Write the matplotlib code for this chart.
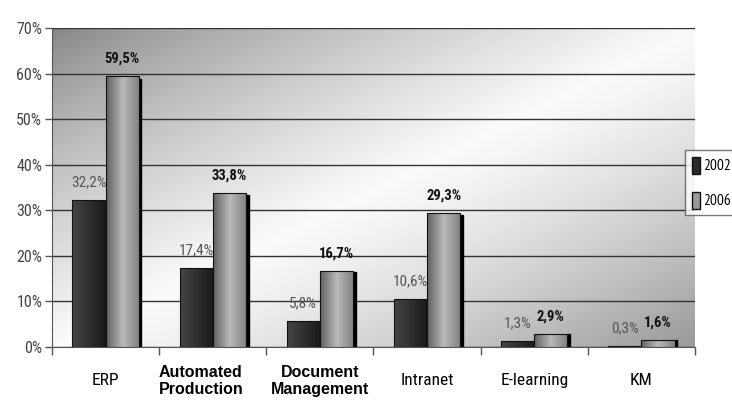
import matplotlib.pyplot as plt
import numpy as np
from matplotlib.patches import Rectangle

categories = ["ERP", "Automated\nProduction", "Document\nManagement", "Intranet", "E-learning", "KM"]
values_2002 = [32.2, 17.4, 5.8, 10.6, 1.3, 0.3]
values_2006 = [59.5, 33.8, 16.7, 29.3, 2.9, 1.6]
labels_2002 = ["32,2%", "17,4%", "5,8%", "10,6%", "1,3%", "0,3%"]
labels_2006 = ["59,5%", "33,8%", "16,7%", "29,3%", "2,9%", "1,6%"]
series = ["2002", "2006"]

narrow = ["Roboto Condensed", "DejaVu Sans"]
narrow_thin = ["PT Sans Narrow", "DejaVu Sans"]
wide = ["Liberation Sans", "DejaVu Sans"]

fig = plt.figure(figsize=(7.32, 4.04), dpi=100)
ax = fig.add_axes([52 / 732, 1 - 347 / 404, 643 / 732, 319 / 404])

x = np.arange(len(categories))
w = 0.31

ax.set_xlim(-0.5, len(categories) - 0.5)
ax.set_ylim(0, 70)

# background gradient (dark at top-left and bottom-right, light across the middle)
gx, gy = np.meshgrid(np.linspace(0, 1, 300), np.linspace(0, 1, 200))
t = (gx + gy) / 2  # gy=0 at top since origin='upper'
bg = np.where(t < 0.5, 0.52 + (0.98 - 0.52) * (t / 0.5) ** 0.8,
              0.98 - (0.98 - 0.6) * ((t - 0.5) / 0.5) ** 1.3)
ax.imshow(bg, cmap="gray", vmin=0, vmax=1, extent=[-0.5, 5.5, 0, 70],
          origin="upper", aspect="auto", zorder=0, interpolation="bilinear")

ax.yaxis.grid(True, color="#333333", linewidth=1.0, zorder=1)
ax.set_axisbelow(True)

dark_grad = np.linspace(0.27, 0.1, 50)[None, :]
light_grad = np.concatenate([np.linspace(0.38, 0.72, 25), np.linspace(0.72, 0.5, 25)])[None, :]


def gradient_bars(xs, heights, grad, label):
    bars = ax.bar(xs, heights, w, color="none", edgecolor="none", zorder=3, label=label)
    for b in bars:
        x0, y0 = b.get_x(), b.get_y()
        bw, bh = b.get_width(), b.get_height()
        # shadow on the right side
        ax.add_patch(Rectangle((x0 + bw, y0), 0.025, bh * 0.99, color="#000000", zorder=2.5))
        im = ax.imshow(grad, cmap="gray", vmin=0, vmax=1, extent=[x0, x0 + bw, y0, y0 + bh],
                       aspect="auto", zorder=3, interpolation="bilinear")
        im.set_clip_path(b)
        ax.add_patch(Rectangle((x0, y0), bw, bh, fill=False, edgecolor="#111111", linewidth=0.8, zorder=4))
    return bars


gradient_bars(x - w / 2, values_2002, dark_grad, series[0])
gradient_bars(x + w / 2, values_2006, light_grad, series[1])

for i in range(len(categories)):
    ax.text(x[i] - w / 2, values_2002[i] + 2.3, labels_2002[i], ha="center", va="bottom",
            fontsize=11, color="#555555", family=narrow, zorder=5)
    ax.text(x[i] + w / 2, values_2006[i] + 2.3, labels_2006[i], ha="center", va="bottom",
            fontsize=10.5, fontweight="bold", color="#111111", family=narrow, zorder=5)

ax.set_yticks(np.arange(0, 71, 10))
ax.set_yticklabels([f"{v}%" for v in range(0, 71, 10)], family=narrow, fontsize=11.5, color="#444444")
ax.set_xticks(np.arange(-0.5, len(categories), 1.0))
ax.set_xticklabels([])
ax.tick_params(axis="y", length=5, width=1, color="#555555", pad=2)
ax.tick_params(axis="x", length=6, width=1, color="#555555")

for i, c in enumerate(categories):
    if "\n" in c:
        shift = -0.11 if c.startswith("Automated") else 0.0
        ax.text(x[i] + shift, -3.9, c, ha="center", va="top", fontsize=11.5, fontweight="bold",
                family=wide, linespacing=1.2)
    else:
        ax.text(x[i], -5.6, c, ha="center", va="top", fontsize=12.5, family=narrow)

for s in ["top", "right"]:
    ax.spines[s].set_visible(False)
ax.spines["left"].set_color("#555555")
ax.spines["bottom"].set_color("#555555")

leg = fig.legend(loc="upper left", bbox_to_anchor=(685 / 732, 1 - 150 / 404), frameon=True,
                 fancybox=False, edgecolor="#555555", handlelength=0.55, handleheight=1.3,
                 handletextpad=0.2, labelspacing=1.2, borderpad=0.45, borderaxespad=0,
                 prop={"family": narrow_thin, "size": 11})
leg.get_frame().set_linewidth(1.0)
for h, fc in zip(leg.legend_handles, ["#2a2a2a", "#999999"]):
    h.set_facecolor(fc)
    h.set_edgecolor("#111111")

fig.savefig("out.png", dpi=100)
